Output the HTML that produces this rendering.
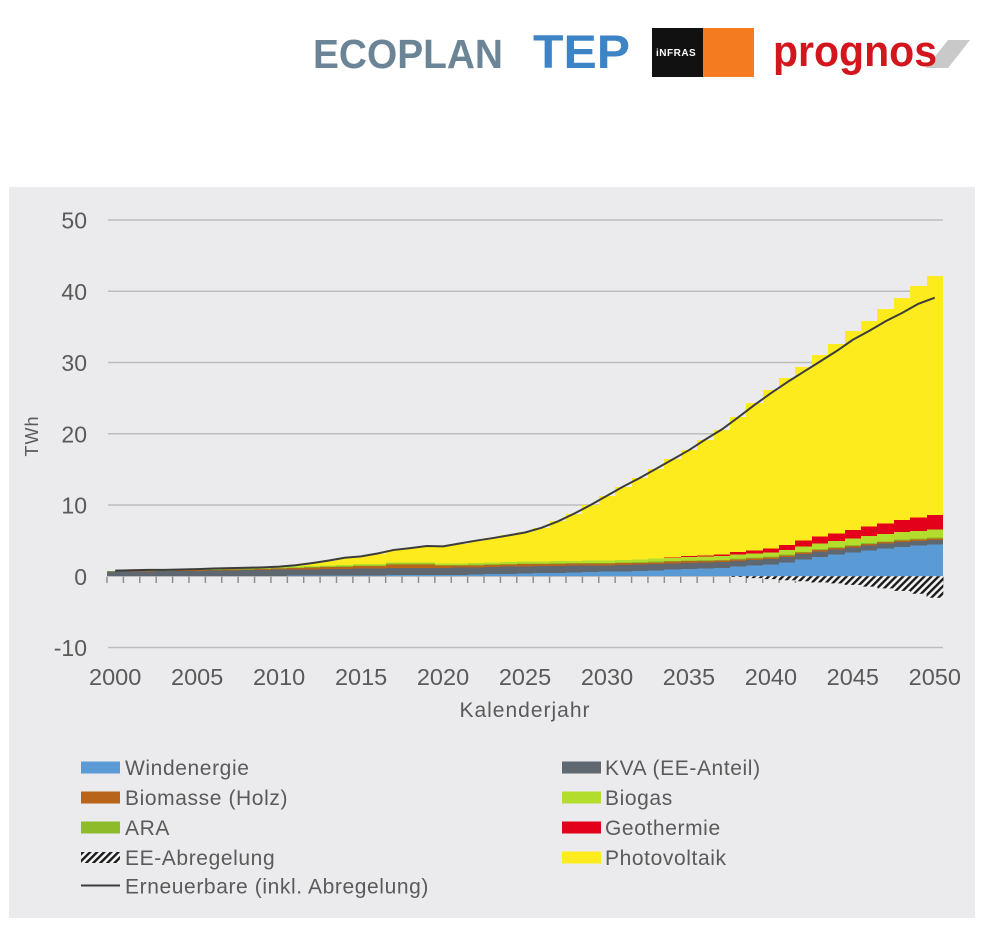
<!DOCTYPE html>
<html><head><meta charset="utf-8">
<style>
html,body{margin:0;padding:0;background:#fff;}
body{width:996px;height:930px;position:relative;overflow:hidden;font-family:"Liberation Sans",sans-serif;}
svg{position:absolute;left:0;top:0;}
#bars{position:absolute;left:107px;top:0;width:840px;height:576.3px;}
#bars b{position:absolute;bottom:0;display:block;
left:calc(var(--i)*16.392px);width:16.75px;height:calc(var(--t)*7.125px);
--s1:calc(var(--w,0)*7.125px);
--s2:calc((var(--w,0) + var(--k,0))*7.125px);
--s3:calc((var(--w,0) + var(--k,0) + var(--b,0))*7.125px);
--s4:calc((var(--w,0) + var(--k,0) + var(--b,0) + var(--a,0))*7.125px);
--s5:calc((var(--w,0) + var(--k,0) + var(--b,0) + var(--a,0) + var(--g,0))*7.125px);
--s6:calc((var(--w,0) + var(--k,0) + var(--b,0) + var(--a,0) + var(--g,0) + var(--r,0))*7.125px);
background:linear-gradient(to top,#5b9bd5 0 var(--s1),#5f6770 0 var(--s2),#b8651b 0 var(--s3),#8dbb2a 0 var(--s4),#b3dd2c 0 var(--s5),#e3001b 0 var(--s6),#fdeb1e 0);}
</style></head><body>
<svg width="996" height="930" viewBox="0 0 996 930">
<defs>
<pattern id="tk" x="106.3" y="0" width="16.392" height="10" patternUnits="userSpaceOnUse"><rect width="1.4" height="10" fill="#8a8a8a"/></pattern>
</defs>
<text x="313" y="68" font-family="Liberation Sans" font-weight="bold" font-size="41" fill="#6b8596" textLength="190" lengthAdjust="spacingAndGlyphs">ECOPLAN</text>
<text x="533" y="68" font-family="Liberation Sans" font-weight="bold" font-size="47" fill="#3d84c6" textLength="97" lengthAdjust="spacingAndGlyphs">TEP</text>
<rect x="652" y="28" width="51" height="49" fill="#111"/>
<rect x="703" y="28" width="51" height="49" fill="#f47b20"/>
<text x="656" y="56" font-family="Liberation Sans" font-weight="bold" font-size="10" fill="#fff" letter-spacing="0.5">iNFRAS</text>
<polygon points="926,68 948,68 970,40 948,40" fill="#c9c9c9"/>
<text x="773" y="66" font-family="Liberation Sans" font-weight="bold" font-size="44" fill="#d3151e" textLength="164" lengthAdjust="spacingAndGlyphs">prognos</text>
<rect x="9" y="187" width="966" height="731" fill="#ebebed"/>
<g stroke="#bdbdbd" stroke-width="1.5">
<line x1="108" x2="943" y1="220.05" y2="220.05"/>
<line x1="108" x2="943" y1="291.3" y2="291.3"/>
<line x1="108" x2="943" y1="362.55" y2="362.55"/>
<line x1="108" x2="943" y1="433.8" y2="433.8"/>
<line x1="108" x2="943" y1="505.05" y2="505.05"/>
<line x1="108" x2="943" y1="576.3" y2="576.3"/>
<line x1="108" x2="943" y1="647.55" y2="647.55"/>
</g>
<rect x="106" y="576.5" width="838" height="6.5" fill="url(#tk)"/>
<g font-family="Liberation Sans" font-size="23" fill="#5a5a5a" text-anchor="end">
<text x="87" y="228.5">50</text>
<text x="87" y="299.8">40</text>
<text x="87" y="371">30</text>
<text x="87" y="442.3">20</text>
<text x="87" y="513.5">10</text>
<text x="87" y="584.8">0</text>
<text x="87" y="656">-10</text>
</g>
<g font-family="Liberation Sans" font-size="23.5" fill="#5a5a5a" text-anchor="middle">
<text x="115.2" y="685">2000</text>
<text x="197.2" y="685">2005</text>
<text x="279.1" y="685">2010</text>
<text x="361.1" y="685">2015</text>
<text x="443.0" y="685">2020</text>
<text x="525.0" y="685">2025</text>
<text x="607.0" y="685">2030</text>
<text x="688.9" y="685">2035</text>
<text x="770.9" y="685">2040</text>
<text x="852.8" y="685">2045</text>
<text x="934.8" y="685">2050</text>
</g>
<text x="525" y="717" font-family="Liberation Sans" font-size="21" fill="#5a5a5a" text-anchor="middle" letter-spacing="1">Kalenderjahr</text>
<text transform="translate(38 436) rotate(-90)" font-family="Liberation Sans" font-size="18" fill="#5a5a5a" text-anchor="middle" letter-spacing="1">TWh</text>
</svg>

<div id="bars">
<b style="--i:0;--t:0.8;--k:0.6;--b:0.05;--a:0.1;--g:0.02"></b>
<b style="--i:1;--t:0.85;--k:0.62;--b:0.05;--a:0.1;--g:0.03"></b>
<b style="--i:2;--t:0.9;--k:0.65;--b:0.06;--a:0.1;--g:0.04"></b>
<b style="--i:3;--t:0.9;--k:0.67;--b:0.06;--a:0.1;--g:0.05"></b>
<b style="--i:4;--t:0.95;--k:0.7;--b:0.07;--a:0.1;--g:0.05"></b>
<b style="--i:5;--t:1.0;--w:0.01;--k:0.72;--b:0.08;--a:0.1;--g:0.06"></b>
<b style="--i:6;--t:1.1;--w:0.01;--k:0.75;--b:0.09;--a:0.1;--g:0.07"></b>
<b style="--i:7;--t:1.15;--w:0.01;--k:0.78;--b:0.1;--a:0.1;--g:0.07"></b>
<b style="--i:8;--t:1.2;--w:0.01;--k:0.8;--b:0.11;--a:0.1;--g:0.08"></b>
<b style="--i:9;--t:1.25;--w:0.02;--k:0.82;--b:0.12;--a:0.1;--g:0.09"></b>
<b style="--i:10;--t:1.35;--w:0.03;--k:0.85;--b:0.15;--a:0.1;--g:0.1"></b>
<b style="--i:11;--t:1.55;--w:0.04;--k:0.87;--b:0.2;--a:0.1;--g:0.11"></b>
<b style="--i:12;--t:1.85;--w:0.05;--k:0.88;--b:0.25;--a:0.1;--g:0.12"></b>
<b style="--i:13;--t:2.2;--w:0.06;--k:0.9;--b:0.3;--a:0.1;--g:0.13"></b>
<b style="--i:14;--t:2.6;--w:0.08;--k:0.9;--b:0.3;--a:0.1;--g:0.14"></b>
<b style="--i:15;--t:2.8;--w:0.1;--k:0.95;--b:0.35;--a:0.1;--g:0.15"></b>
<b style="--i:16;--t:3.2;--w:0.1;--k:0.95;--b:0.35;--a:0.1;--g:0.16"></b>
<b style="--i:17;--t:3.7;--w:0.12;--k:1.0;--b:0.5;--a:0.1;--g:0.17"></b>
<b style="--i:18;--t:3.95;--w:0.12;--k:1.0;--b:0.5;--a:0.1;--g:0.18"></b>
<b style="--i:19;--t:4.25;--w:0.13;--k:1.0;--b:0.5;--a:0.1;--g:0.19"></b>
<b style="--i:20;--t:4.2;--w:0.14;--k:1.0;--b:0.3;--a:0.1;--g:0.2"></b>
<b style="--i:21;--t:4.6;--w:0.16;--k:1.0;--b:0.3;--a:0.1;--g:0.21"></b>
<b style="--i:22;--t:5.0;--w:0.2;--k:1.0;--b:0.3;--a:0.1;--g:0.22"></b>
<b style="--i:23;--t:5.35;--w:0.25;--k:1.0;--b:0.3;--a:0.1;--g:0.24"></b>
<b style="--i:24;--t:5.75;--w:0.3;--k:1.0;--b:0.3;--a:0.1;--g:0.26"></b>
<b style="--i:25;--t:6.15;--w:0.35;--k:1.0;--b:0.3;--a:0.1;--g:0.27"></b>
<b style="--i:26;--t:6.8;--w:0.4;--k:0.98;--b:0.3;--a:0.1;--g:0.29"></b>
<b style="--i:27;--t:7.7;--w:0.45;--k:0.96;--b:0.3;--a:0.1;--g:0.3"></b>
<b style="--i:28;--t:8.8;--w:0.5;--k:0.94;--b:0.28;--a:0.1;--g:0.32"></b>
<b style="--i:29;--t:10.0;--w:0.55;--k:0.92;--b:0.27;--a:0.1;--g:0.33"></b>
<b style="--i:30;--t:11.3;--w:0.6;--k:0.9;--b:0.25;--a:0.1;--g:0.35"></b>
<b style="--i:31;--t:12.6;--w:0.65;--k:0.89;--b:0.25;--a:0.1;--g:0.37"></b>
<b style="--i:32;--t:13.8;--w:0.7;--k:0.88;--b:0.25;--a:0.1;--g:0.4"></b>
<b style="--i:33;--t:15.1;--w:0.8;--k:0.87;--b:0.25;--a:0.1;--g:0.42;--r:0.05"></b>
<b style="--i:34;--t:16.4;--w:0.9;--k:0.86;--b:0.24;--a:0.1;--g:0.45;--r:0.08"></b>
<b style="--i:35;--t:17.7;--w:1.0;--k:0.85;--b:0.24;--a:0.1;--g:0.47;--r:0.12"></b>
<b style="--i:36;--t:19.2;--w:1.05;--k:0.84;--b:0.23;--a:0.1;--g:0.5;--r:0.18"></b>
<b style="--i:37;--t:20.6;--w:1.1;--k:0.83;--b:0.23;--a:0.1;--g:0.52;--r:0.25"></b>
<b style="--i:38;--t:22.4;--w:1.3;--k:0.82;--b:0.22;--a:0.1;--g:0.55;--r:0.35"></b>
<b style="--i:39;--t:24.3;--w:1.45;--k:0.81;--b:0.22;--a:0.1;--g:0.57;--r:0.45"></b>
<b style="--i:40;--t:26.1;--w:1.6;--k:0.8;--b:0.22;--a:0.1;--g:0.6;--r:0.55"></b>
<b style="--i:41;--t:27.8;--w:1.9;--k:0.78;--b:0.21;--a:0.12;--g:0.67;--r:0.7"></b>
<b style="--i:42;--t:29.4;--w:2.3;--k:0.76;--b:0.21;--a:0.12;--g:0.74;--r:0.85"></b>
<b style="--i:43;--t:31.0;--w:2.7;--k:0.75;--b:0.21;--a:0.12;--g:0.81;--r:0.95"></b>
<b style="--i:44;--t:32.6;--w:3.0;--k:0.73;--b:0.2;--a:0.12;--g:0.88;--r:1.05"></b>
<b style="--i:45;--t:34.4;--w:3.3;--k:0.72;--b:0.2;--a:0.12;--g:0.95;--r:1.15"></b>
<b style="--i:46;--t:35.9;--w:3.6;--k:0.7;--b:0.2;--a:0.12;--g:1.0;--r:1.3"></b>
<b style="--i:47;--t:37.5;--w:3.85;--k:0.69;--b:0.2;--a:0.12;--g:1.04;--r:1.45"></b>
<b style="--i:48;--t:39.0;--w:4.1;--k:0.68;--b:0.2;--a:0.12;--g:1.08;--r:1.65"></b>
<b style="--i:49;--t:40.7;--w:4.25;--k:0.66;--b:0.2;--a:0.12;--g:1.12;--r:1.85"></b>
<b style="--i:50;--t:42.1;--w:4.4;--k:0.65;--b:0.2;--a:0.12;--g:1.15;--r:2.05"></b>
</div>

<svg width="996" height="930" viewBox="0 0 996 930">
<defs>
<pattern id="hp" width="5" height="5" patternUnits="userSpaceOnUse" patternTransform="rotate(45)"><rect width="5" height="5" fill="#f4f4f4"/><rect width="2.4" height="5" fill="#1a1a1a"/></pattern>
</defs>
<path d="M729.9,576.3 V577.0 H746.3 V578.1 H762.7 V579.15 H779.1 V580.2 H795.5 V581.3 H811.9 V582.4 H828.2 V583.4 H844.6 V584.85 H861.0 V586.6 H877.4 V588.4 H893.8 V590.9 H910.2 V593.8 H926.6 V597.7 H943.3 V576.3 Z" fill="url(#hp)"/>
<g transform="translate(115.2 576.3) scale(16.392 -7.125)">
<polyline fill="none" stroke="#3c3c3c" stroke-width="2" vector-effect="non-scaling-stroke" stroke-linejoin="round" points="0,0.8 1,0.85 2,0.9 3,0.9 4,0.95 5,1.0 6,1.1 7,1.15 8,1.2 9,1.25 10,1.35 11,1.55 12,1.85 13,2.2 14,2.6 15,2.8 16,3.2 17,3.7 18,3.95 19,4.25 20,4.2 21,4.6 22,5.0 23,5.35 24,5.75 25,6.15 26,6.8 27,7.7 28,8.8 29,10.0 30,11.3 31,12.6 32,13.8 33,15.1 34,16.4 35,17.7 36,19.2 37,20.6 38,22.3 39,24.05 40,25.7 41,27.25 42,28.7 43,30.15 44,31.6 45,33.2 46,34.45 47,35.8 48,36.95 49,38.25 50,39.1"/>
</g>
<rect x="81" y="761.5" width="39" height="12" fill="#5b9bd5"/>
<rect x="81" y="791.5" width="39" height="12" fill="#b8651b"/>
<rect x="81" y="821.5" width="39" height="12" fill="#8dbb2a"/>
<rect x="81" y="852" width="39" height="11" fill="url(#hp)"/>
<line x1="81" x2="120" y1="885.5" y2="885.5" stroke="#3c3c3c" stroke-width="2"/>
<rect x="562" y="761.5" width="39" height="12" fill="#5f6770"/>
<rect x="562" y="791.5" width="39" height="12" fill="#b3dd2c"/>
<rect x="562" y="821.5" width="39" height="12" fill="#e3001b"/>
<rect x="562" y="851.5" width="39" height="12" fill="#fdeb1e"/>
<g font-family="Liberation Sans" font-size="21" fill="#5a5a5a" letter-spacing="0.6">
<text x="125" y="775">Windenergie</text>
<text x="125" y="805">Biomasse (Holz)</text>
<text x="125" y="835">ARA</text>
<text x="125" y="865">EE-Abregelung</text>
<text x="125" y="893.5">Erneuerbare (inkl. Abregelung)</text>
<text x="605" y="775">KVA (EE-Anteil)</text>
<text x="605" y="805">Biogas</text>
<text x="605" y="835">Geothermie</text>
<text x="605" y="865">Photovoltaik</text>
</g>
</svg>
</body></html>
